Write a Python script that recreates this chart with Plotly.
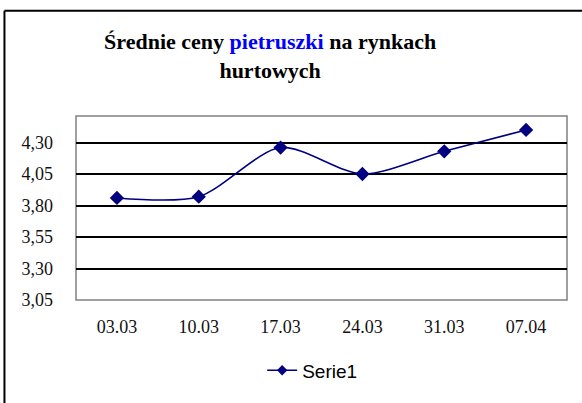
import plotly.graph_objects as go

dates = ["03.03", "10.03", "17.03", "24.03", "31.03", "07.04"]
prices = [3.86, 3.87, 4.26, 4.05, 4.23, 4.40]
y_ticks = [3.05, 3.30, 3.55, 3.80, 4.05, 4.30]
y_labels = ["3,05", "3,30", "3,55", "3,80", "4,05", "4,30"]

W, H = 582, 403
L, R, T, B = 76, 15.3, 115.7, 102.7
pw, ph = W - L - R, H - T - B

fig = go.Figure()
fig.add_trace(go.Scatter(
    x=dates, y=prices, name="Serie1", mode="lines+markers", showlegend=False,
    line=dict(color="#000080", width=1.6, shape="spline", smoothing=0.8),
    marker=dict(symbol="diamond", size=11, color="#000080"),
))
# legend entry with the smaller marker used in the source legend
fig.add_trace(go.Scatter(
    x=[None], y=[None], name="Serie1", mode="lines+markers",
    line=dict(color="#000080", width=1.6),
    marker=dict(symbol="diamond", size=8, color="#000080"),
))

# outer frame (only top and left edges are visible in the source)
fx0 = (4.5 - L) / pw
fy0 = (H - 10 - B) / ph
fig.add_shape(type="line", xref="paper", yref="paper", x0=fx0, x1=(W - L) / pw + 0.01,
              y0=fy0, y1=fy0, line=dict(color="black", width=2))
fig.add_shape(type="line", xref="paper", yref="paper", x0=fx0, x1=fx0,
              y0=fy0, y1=-B / ph - 0.01, line=dict(color="black", width=2))
# plot area border
fig.add_shape(type="rect", xref="paper", yref="paper", x0=0, x1=1, y0=0, y1=1,
              line=dict(color="#808080", width=1.5), layer="below")

fig.update_layout(
    width=W, height=H,
    margin=dict(l=L, r=R, t=T, b=B),
    paper_bgcolor="white", plot_bgcolor="white",
    title=dict(
        text="Średnie ceny <span style='color:#0000ff'>pietruszki</span> na rynkach<br>hurtowych",
        x=(270 - L) / pw, xref="paper", xanchor="center",
        y=1 - 49 / H, yanchor="top",
        font=dict(family="Liberation Serif", size=22, color="black", weight="bold"),
    ),
    showlegend=True,
    legend=dict(orientation="h", x=(312 - L) / pw, xanchor="center", y=-(371 - 300.3) / ph,
                yanchor="middle", font=dict(family="Liberation Sans", size=19, color="black")),
    xaxis=dict(
        type="category", range=[-0.5, 5.5], showgrid=False, showline=False, ticks="",
        ticklabelstandoff=14,
        tickfont=dict(family="Liberation Serif", size=18, color="#111111"),
    ),
    yaxis=dict(
        range=[3.05, 3.05 + ph / 31.6 * 0.25], tickvals=y_ticks, ticktext=y_labels,
        showgrid=True, gridcolor="black", gridwidth=1.5, zeroline=False, showline=False,
        ticks="", ticklabelstandoff=22,
        tickfont=dict(family="Liberation Serif", size=18, color="#111111"),
    ),
)

fig.write_html("out.html", config={"displayModeBar": False},
               post_script="document.body.style.margin='0px';")
